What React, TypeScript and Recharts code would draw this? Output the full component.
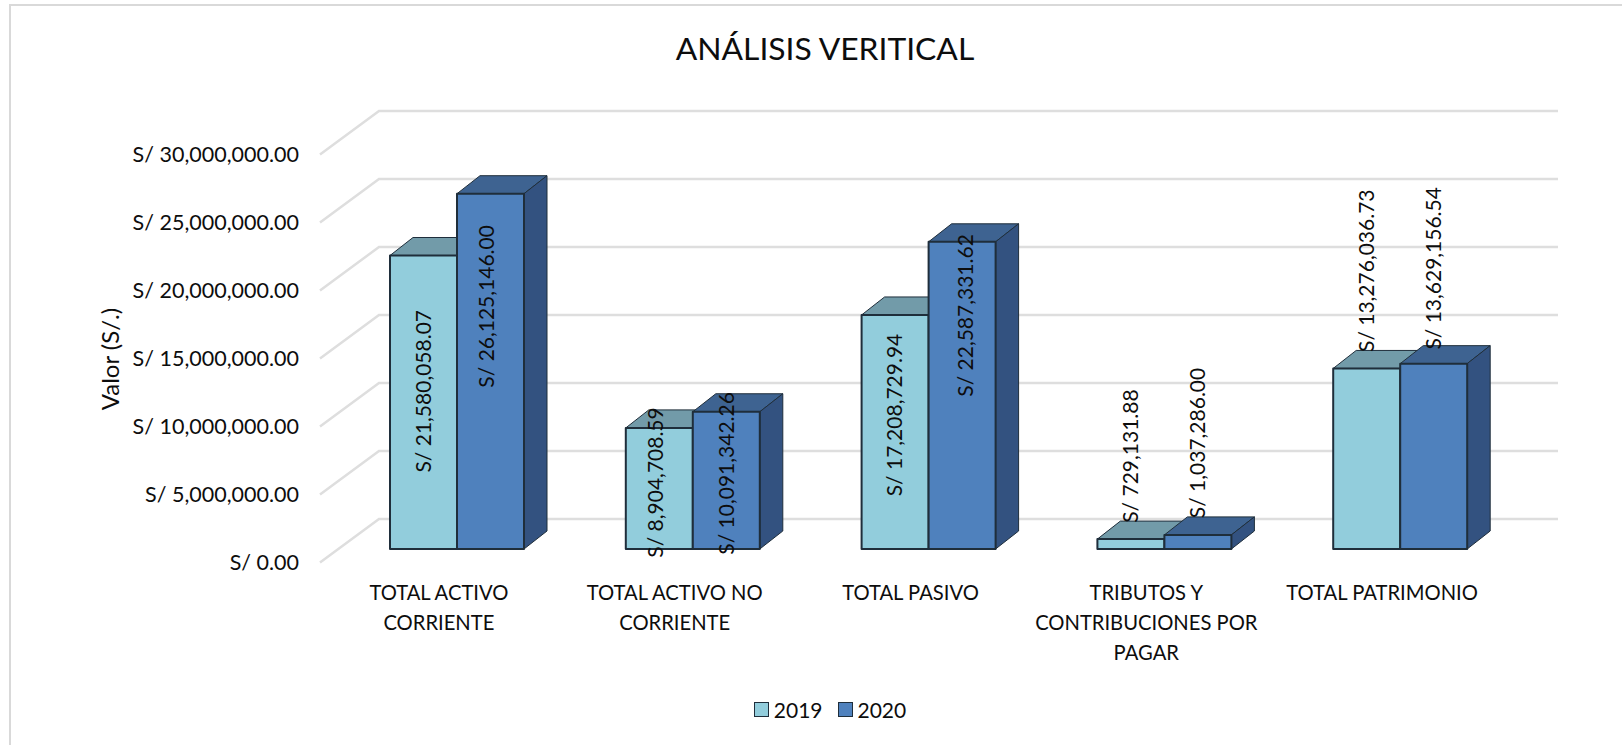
import { BarChart, Bar, XAxis, YAxis, CartesianGrid, Legend, LabelList } from 'recharts';

const categories = [
  'TOTAL ACTIVO CORRIENTE',
  'TOTAL ACTIVO NO CORRIENTE',
  'TOTAL PASIVO',
  'TRIBUTOS Y CONTRIBUCIONES POR PAGAR',
  'TOTAL PATRIMONIO',
];
const values2019 = [21580058.07, 8904708.59, 17208729.94, 729131.88, 13276036.73];
const values2020 = [26125146.0, 10091342.26, 22587331.62, 1037286.0, 13629156.54];
const yTicks = [0, 5000000, 10000000, 15000000, 20000000, 25000000, 30000000];

// line breaks of the category labels, as wrapped in the original
const categoryLines = [
  ['TOTAL ACTIVO', 'CORRIENTE'],
  ['TOTAL ACTIVO NO', 'CORRIENTE'],
  ['TOTAL PASIVO'],
  ['TRIBUTOS Y', 'CONTRIBUCIONES POR', 'PAGAR'],
  ['TOTAL PATRIMONIO'],
];

const data = categories.map((name, i) => ({ name, y2019: values2019[i], y2020: values2020[i] }));

// the labels were moved by hand in the original, so they do not sit on the bar center
const labelShift2019 = [
  { dx: 0, dy: -11 },
  { dx: -4, dy: -6 },
  { dx: 0, dy: -17 },
  { dx: 0, dy: -88 },
  { dx: 0, dy: -188 },
];
const labelShift2020 = [
  { dx: -4, dy: -65 },
  { dx: 0, dy: -7 },
  { dx: 4, dy: -80 },
  { dx: 0, dy: -99 },
  { dx: 0, dy: -188 },
];

const FONT = 'Lato, Carlito, Calibri, sans-serif';
const TEXT = '#0d0d0d';
const EDGE = '#1f2e3b';

const DEPTH_X = 23;
const DEPTH_Y = 18;
// the floor: front edge of the axis sits below and left of the bars
const FLOOR_LEFT = 320;
const WALL_LEFT = 379;
const WALL_RIGHT = 1558;
const FRONT_DROP = 13.5;
const BACK_RISE = 30;

const money = (v: number) =>
  'S/ ' + v.toLocaleString('en-US', { minimumFractionDigits: 2, maximumFractionDigits: 2 });

const gridLine = (props: any) => {
  const y = props.y1;
  return (
    <polyline
      key={props.key}
      points={`${FLOOR_LEFT},${y + FRONT_DROP} ${WALL_LEFT},${y - BACK_RISE} ${WALL_RIGHT},${y - BACK_RISE}`}
      fill="none"
      stroke="#dedede"
      strokeWidth={2.5}
    />
  );
};

const box = (front: string, top: string, side: string) => (props: any) => {
  const { x, y, width, height } = props;
  const dx = DEPTH_X;
  const dy = DEPTH_Y;
  return (
    <g stroke={EDGE} strokeLinejoin="round">
      <path
        d={`M${x},${y} L${x + dx},${y - dy} L${x + width + dx},${y - dy} L${x + width},${y} Z`}
        fill={top}
        strokeWidth={1}
      />
      <path
        d={`M${x + width},${y} L${x + width + dx},${y - dy} L${x + width + dx},${y + height - dy} L${x + width},${y + height} Z`}
        fill={side}
        strokeWidth={1}
      />
      <rect x={x} y={y} width={width} height={height} fill={front} strokeWidth={2} />
    </g>
  );
};

const YTick = (props: any) => (
  <text
    x={299}
    y={props.y + FRONT_DROP}
    dy="0.35em"
    textAnchor="end"
    fontFamily={FONT}
    fontSize={21.5}
    fill={TEXT}
  >
    {money(props.payload.value)}
  </text>
);

const XTick = (props: any) => {
  const lines = categoryLines[props.index] || [props.payload.value];
  return (
    <text x={props.x - 18} y={600} textAnchor="middle" fontFamily={FONT} fontSize={20.2} fill={TEXT}>
      {lines.map((line: string, i: number) => (
        <tspan key={i} x={props.x - 18} dy={i === 0 ? 0 : 30}>
          {line}
        </tspan>
      ))}
    </text>
  );
};

const barLabel = (shifts: { dx: number; dy: number }[]) => (props: any) => {
  const { x, y, width, height, value, index } = props;
  const cx = x + width / 2 + shifts[index].dx;
  const cy = y + height / 2 + shifts[index].dy;
  return (
    <text
      x={cx}
      y={cy}
      dy="0.35em"
      textAnchor="middle"
      transform={`rotate(-90 ${cx} ${cy})`}
      fontFamily={FONT}
      fontSize={21}
      fill={TEXT}
    >
      {money(value)}
    </text>
  );
};

const LegendBox = (props: any) => (
  <div
    style={{
      display: 'flex',
      alignItems: 'center',
      justifyContent: 'center',
      height: 24,
      fontFamily: FONT,
      fontSize: 21,
      color: TEXT,
    }}
  >
    {props.payload.map((item: any, i: number) => (
      <span key={item.value} style={{ display: 'flex', alignItems: 'center', marginRight: i === 0 ? 15 : 0 }}>
        <span
          style={{
            width: 13,
            height: 13,
            background: item.color,
            border: `1px solid ${EDGE}`,
            marginRight: 5,
          }}
        />
        {item.value}
      </span>
    ))}
  </div>
);

export default function App() {
  return (
    <div
      style={{
        position: 'absolute',
        left: 0,
        top: 0,
        width: 1622,
        height: 745,
        background: '#fff',
        overflow: 'hidden',
      }}
    >
      <div
        style={{
          position: 'absolute',
          left: 9,
          top: 4,
          right: -4,
          bottom: -4,
          border: '2px solid #d9d9d9',
        }}
      />
      <BarChart
        width={1622}
        height={745}
        data={data}
        margin={{ top: 141, right: 104, bottom: 24, left: 0 }}
        barCategoryGap={50}
        barGap={0}
        style={{ position: 'absolute', left: 0, top: 0 }}
      >
        <text x={825} y={60} textAnchor="middle" fontFamily={FONT} fontSize={31.8} fill={TEXT}>
          ANÁLISIS VERITICAL
        </text>
        <text
          x={111}
          y={359}
          dy="0.35em"
          textAnchor="middle"
          transform="rotate(-90 111 359)"
          fontFamily={FONT}
          fontSize={24}
          fill={TEXT}
        >
          Valor (S/.)
        </text>
        <CartesianGrid vertical={false} horizontal={gridLine} />
        <XAxis
          dataKey="name"
          axisLine={false}
          tickLine={false}
          height={148}
          interval={0}
          tick={<XTick />}
        />
        <YAxis
          width={339}
          domain={[0, 30000000]}
          ticks={yTicks}
          axisLine={false}
          tickLine={false}
          tick={<YTick />}
        />
        <Legend
          verticalAlign="bottom"
          align="center"
          content={<LegendBox />}
          wrapperStyle={{ left: 680, width: 300 }}
        />
        <Bar
          dataKey="y2019"
          name="2019"
          fill="#92cddc"
          barSize={67}
          isAnimationActive={false}
          shape={box('#92cddc', '#729ba9', '#5b8a99')}
        >
          <LabelList dataKey="y2019" content={barLabel(labelShift2019)} />
        </Bar>
        <Bar
          dataKey="y2020"
          name="2020"
          fill="#4f81bd"
          barSize={67}
          isAnimationActive={false}
          shape={box('#4f81bd', '#3e6391', '#335280')}
        >
          <LabelList dataKey="y2020" content={barLabel(labelShift2020)} />
        </Bar>
      </BarChart>
    </div>
  );
}
